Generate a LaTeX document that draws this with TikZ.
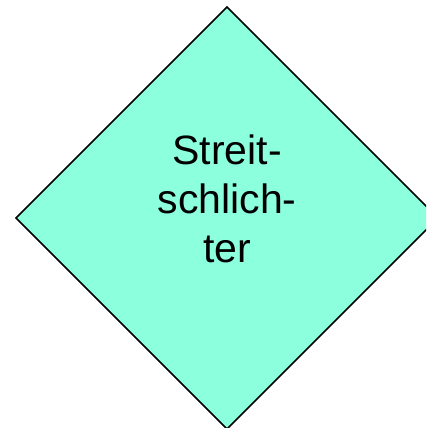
\documentclass[tikz,border=0pt]{standalone}
\usepackage{fontspec}
\setmainfont{Liberation Sans}
\definecolor{mint}{RGB}{140,255,221}

\begin{document}
\begin{tikzpicture}[x=1pt, y=1pt]
    \useasboundingbox (0, 0) rectangle (426, 428);
    \begin{scope}
        \clip (0, 0) rectangle (426, 428);
        \draw[line width=1.6pt, fill=mint] (227, 421) -- (438, 210) -- (227, -1) -- (16, 210) -- cycle;
    \end{scope}
    \node[align=center, inner sep=0pt, font=\fontsize{41}{49}\selectfont] (label) at (227, 229) {Streit-\\schlich-\\ter};
\end{tikzpicture}
\end{document}
